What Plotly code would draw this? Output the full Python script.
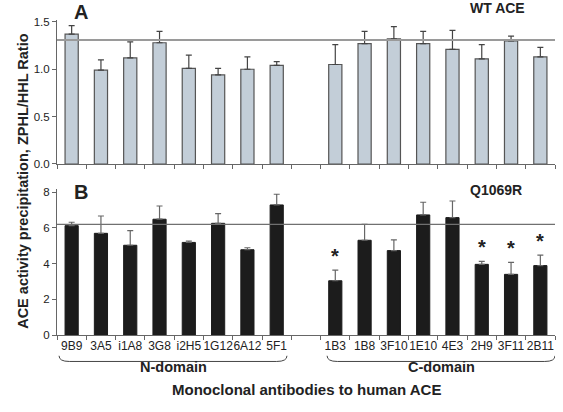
import plotly.graph_objects as go
from plotly.subplots import make_subplots

n_domain = ["9B9", "3A5", "i1A8", "3G8", "i2H5", "1G12", "6A12", "5F1"]
c_domain = ["1B3", "1B8", "3F10", "1E10", "4E3", "2H9", "3F11", "2B11"]
gap = [" "]
categories = n_domain + gap + c_domain
antibodies = n_domain + c_domain

wt_mean = [1.37, 0.99, 1.12, 1.28, 1.01, 0.94, 1.00, 1.04,
           1.05, 1.27, 1.32, 1.27, 1.21, 1.11, 1.30, 1.13]
wt_err = [0.09, 0.11, 0.17, 0.12, 0.14, 0.07, 0.13, 0.04,
          0.21, 0.13, 0.13, 0.13, 0.20, 0.15, 0.05, 0.10]
mut_mean = [6.13, 5.70, 5.03, 6.49, 5.19, 6.26, 4.78, 7.29,
            3.04, 5.31, 4.73, 6.73, 6.58, 3.96, 3.40, 3.89]
mut_err = [0.19, 0.97, 0.82, 0.74, 0.08, 0.54, 0.11, 0.60,
           0.60, 0.89, 0.60, 0.71, 0.93, 0.17, 0.67, 0.59]
wt_ref = 1.31
mut_ref = 6.20
significant = ["1B3", "2H9", "3F11", "2B11"]

FONT = "Liberation Sans, Arial, sans-serif"
AX = "#666666"
TXT = "#222222"

fig = make_subplots(rows=2, cols=1, shared_xaxes=False, vertical_spacing=0.0)

fig.add_trace(go.Bar(
    x=antibodies, y=wt_mean, width=0.45,
    marker=dict(color="#c3ced8", line=dict(color="#555555", width=1.2)),
    error_y=dict(type="data", array=wt_err, symmetric=False,
                 arrayminus=[0] * len(wt_err), color="#444444",
                 thickness=1.2, width=3),
    showlegend=False), row=1, col=1)

fig.add_trace(go.Bar(
    x=antibodies, y=mut_mean, width=0.45,
    marker=dict(color="#1c1c1c", line=dict(color="#1c1c1c", width=1)),
    error_y=dict(type="data", array=mut_err, symmetric=False,
                 arrayminus=[0] * len(mut_err), color="#666666",
                 thickness=1.2, width=3),
    showlegend=False), row=2, col=1)

common_x = dict(type="category", categoryorder="array", categoryarray=categories,
                range=[-0.5, len(categories) - 0.5], tickson="boundaries",
                ticks="outside", ticklen=4, tickcolor=AX, showline=True,
                linecolor=AX, linewidth=1, showgrid=False, zeroline=False,
                tickangle=0, automargin=False, domain=[0, 1],
                tickfont=dict(family=FONT, size=12, color=TXT))
fig.update_xaxes(**common_x)
fig.update_xaxes(showticklabels=False, row=1, col=1)

common_y = dict(ticks="outside", ticklen=4, tickcolor=AX, showline=True,
                linecolor=AX, linewidth=1, showgrid=False, zeroline=False,
                automargin=False,
                tickfont=dict(family=FONT, size=11.5, color=TXT))
fig.update_yaxes(**common_y)
fig.update_yaxes(range=[0, 1.52], tickvals=[0, 0.5, 1.0, 1.5],
                 tickformat=".1f", domain=[0.5429, 1.0], row=1, col=1)
fig.update_yaxes(range=[0, 8.2], tickvals=[0, 2, 4, 6, 8],
                 domain=[0.0, 0.4644], row=2, col=1)

# reference lines
fig.add_shape(type="line", xref="x domain", yref="y", x0=0, x1=1,
              y0=wt_ref, y1=wt_ref, line=dict(color="#9a9a9a", width=2))
fig.add_shape(type="line", xref="x2 domain", yref="y2", x0=0, x1=1,
              y0=mut_ref, y1=mut_ref, line=dict(color="#707070", width=1.3))

# significance stars
for name in significant:
    i = antibodies.index(name)
    fig.add_annotation(x=name, y=mut_mean[i] + mut_err[i], xref="x2", yref="y2",
                       text="<b>*</b>", showarrow=False, yshift=14,
                       font=dict(family=FONT, size=20, color=TXT))

# panel labels
fig.add_annotation(x=0.03, y=1.025, xref="paper", yref="paper", text="<b>A</b>",
                   showarrow=False, xanchor="left", yanchor="middle",
                   font=dict(family=FONT, size=20, color=TXT))
fig.add_annotation(x=0.03, y=0.455, xref="paper", yref="paper", text="<b>B</b>",
                   showarrow=False, xanchor="left", yanchor="middle",
                   font=dict(family=FONT, size=20, color=TXT))
fig.add_annotation(x=0.885, y=1.038, xref="paper", yref="paper", text="<b>WT ACE</b>",
                   showarrow=False, xanchor="center", yanchor="middle",
                   font=dict(family=FONT, size=14, color=TXT))
fig.add_annotation(x=0.882, y=0.461, xref="paper", yref="paper", text="<b>Q1069R</b>",
                   showarrow=False, xanchor="center", yanchor="middle",
                   font=dict(family=FONT, size=14, color=TXT))

# y axis title
fig.add_annotation(x=-0.09, y=0.49, xref="paper", yref="paper",
                   text="<b>ACE activity precipitation, ZPHL/HHL Ratio</b>",
                   textangle=-90, showarrow=False,
                   font=dict(family=FONT, size=14.5, color=TXT))

# domain braces
def brace(x0, x1):
    y_top, y_bot = -0.066, -0.084
    dx = 0.35
    return (f"M {x0},{y_top} Q {x0},{y_bot} {x0 + dx},{y_bot} "
            f"L {x1 - dx},{y_bot} Q {x1},{y_bot} {x1},{y_top}")

for (a, b), label in [((-0.43, 7.35), "N-domain"), ((8.72, 16.5), "C-domain")]:
    fig.add_shape(type="path", xref="x2", yref="paper", path=brace(a, b),
                  line=dict(color="#444444", width=1))
    fig.add_annotation(x=(a + b) / 2, y=-0.133, xref="x2", yref="paper",
                       text=f"<b>{label}</b>", showarrow=False,
                       font=dict(family=FONT, size=14.5, color=TXT))

fig.add_annotation(x=0.5, y=-0.206, xref="paper", yref="paper",
                   text="<b>Monoclonal antibodies to human ACE</b>", showarrow=False,
                   font=dict(family=FONT, size=15, color=TXT))

fig.update_layout(template="none", width=563, height=412,
                  margin=dict(l=57, r=8, t=20, b=77, autoexpand=False),
                  plot_bgcolor="white", paper_bgcolor="white", bargap=0.5,
                  font=dict(family=FONT, color=TXT))

fig.write_html("out.html",
               config={"displayModeBar": False},
               post_script="document.body.style.margin='0';"
                           "document.body.style.overflow='hidden';")
